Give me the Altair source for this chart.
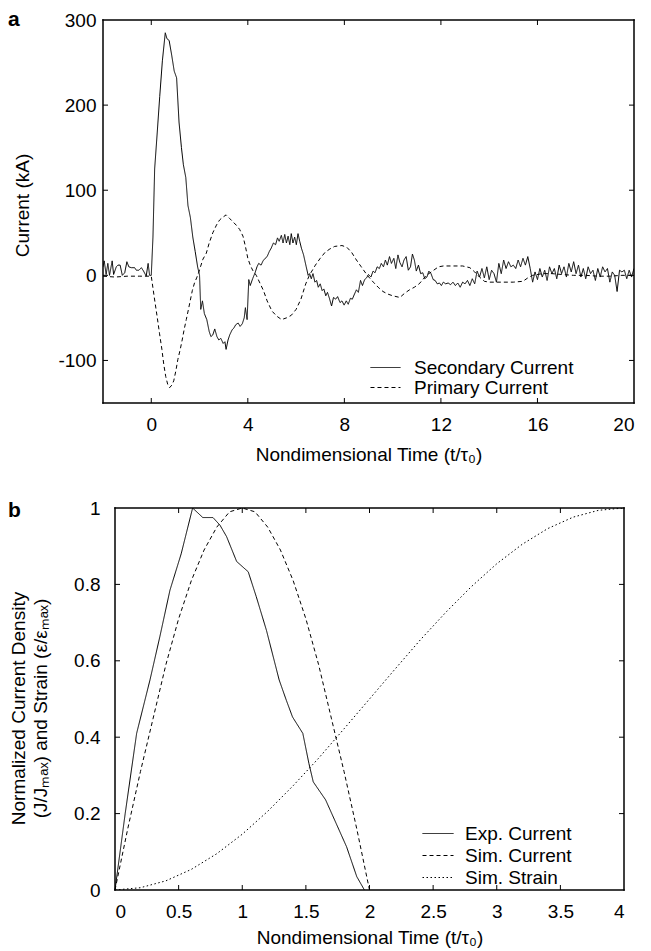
import altair as alt
import pandas as pd

FONT = "Liberation Sans"

# ---------------- Panel a data ----------------
sec_t = [-2.0, -1.95, -1.87, -1.8, -1.73, -1.62, -1.56, -1.45, -1.38, -1.29, -1.2, -1.1, -1.01, -0.93,
         -0.83, -0.69, -0.62, -0.51, -0.41, -0.32, -0.21, -0.13, -0.07,
         0.0, 0.07, 0.14, 0.24, 0.35, 0.46, 0.58, 0.65, 0.74, 0.85, 0.95, 1.05, 1.15, 1.25, 1.33, 1.43,
         1.52, 1.62, 1.72, 1.82, 1.92, 2.0, 2.05, 2.12, 2.2, 2.3, 2.4, 2.47, 2.55, 2.63, 2.72, 2.8, 2.88,
         2.98, 3.05, 3.1, 3.18, 3.25, 3.35, 3.42, 3.5, 3.6, 3.68, 3.77, 3.85, 3.9, 3.97, 4.04, 4.1, 4.2,
         4.3, 4.38, 4.45, 4.55, 4.63, 4.72, 4.8, 4.89, 4.97, 5.06, 5.15, 5.23, 5.3, 5.39, 5.46, 5.53, 5.6,
         5.67, 5.74, 5.8, 5.87, 5.94, 6.01, 6.08, 6.15, 6.22, 6.31, 6.42, 6.5, 6.56, 6.63, 6.7, 6.78, 6.85,
         6.92, 7.0, 7.08, 7.15, 7.23, 7.3, 7.38, 7.47, 7.55, 7.64, 7.72, 7.82, 7.9, 7.99, 8.08, 8.16, 8.25,
         8.33, 8.42, 8.5, 8.58, 8.67, 8.75, 8.84, 8.92, 9.0, 9.1, 9.19, 9.27, 9.36, 9.45, 9.53, 9.62, 9.7,
         9.78, 9.87, 9.95, 10.05, 10.13, 10.22, 10.3, 10.39, 10.47, 10.56, 10.65, 10.74, 10.82, 10.9,
         10.98, 11.07, 11.16, 11.25, 11.33, 11.42, 11.5, 11.59, 11.68, 11.76, 11.85, 11.94, 12.02, 12.1,
         12.2, 12.3, 12.4, 12.5, 12.6, 12.7, 12.8, 12.9, 13.0, 13.1, 13.2, 13.3, 13.4, 13.5, 13.6, 13.7,
         13.8, 13.9, 14.0, 14.1, 14.2, 14.3, 14.4, 14.5, 14.6, 14.7, 14.8, 14.9, 15.0, 15.1, 15.2, 15.3,
         15.4, 15.5, 15.6, 15.7, 15.8, 15.9, 16.0, 16.1, 16.2, 16.3, 16.4, 16.5, 16.6, 16.7, 16.8, 16.9,
         17.0, 17.1, 17.2, 17.3, 17.4, 17.5, 17.6, 17.7, 17.8, 17.9, 18.0, 18.1, 18.2, 18.3, 18.4, 18.5,
         18.6, 18.7, 18.8, 18.9, 19.0, 19.1, 19.2, 19.3, 19.4, 19.5, 19.6, 19.7, 19.8, 19.9, 20.0]
sec_v = [10, 17, 1, 14, 0, 17, 1, 10, 12, 12, 0, 3, 16, 10,
         9, 9, 6, 6, 9, 5, -1, 14, 0,
         0, 45, 125, 165, 210, 252, 285, 278, 276, 258, 240, 232, 180, 150, 130, 115,
         82, 68, 45, 28, 10, 0, -40, -30, -45, -52, -66, -72, -70, -63, -72, -76, -74,
         -80, -78, -87, -76, -70, -64, -62, -58, -56, -60, -57, -50, -38, -52, -5, -12, -4,
         3, 10, 14, 12, 17, 20, 22, 28, 32, 38, 36, 44, 40, 47, 38, 48, 38,
         46, 36, 49, 38, 45, 36, 49, 40, 32, 24, 10, 0, 2, -4, 2, -8, -6,
         -14, -10, -18, -16, -24, -20, -27, -36, -26, -28, -25, -32, -30, -35, -30, -34, -27,
         -28, -22, -17, -20, -6, -12, -5, -3, 1, -2, 5, 3, 10, 8, 14, 10, 18,
         12, 22, 14, 20, 8, 24, 15, 10, 18, 22, 6, 10, 25, 18,
         5, 12, 2, 3, -4, -2, 5, 2, -5, -6, -10, -9, -12, -8,
         -10, -9, -11, -8, -12, -9, -14, -8, -10, -6, -12, -4, -10, 5, -2, 8,
         -3, 10, -5, 6, 2, -8, 14, 2, 18, 8, 16, 10, 12, 8, 18, 10,
         20, 12, 22, 8, -8, 4, -5, 8, -2, 6, -6, 10, 2, 8, -4, 12,
         2, 10, -2, 14, 4, 16, 2, 12, -2, 8, -4, 10, 2, 6, -6, 8,
         -2, 10, 4, 8, -8, 4, 0, -19, 6, 4, 6, -4, 6, -2, 8]

pri_t = [-2.0, -1.5, -1.0, -0.5, 0.0, 0.12, 0.24, 0.34, 0.44, 0.52, 0.6, 0.68, 0.76, 0.85, 0.93, 1.02,
         1.1, 1.2, 1.28, 1.36, 1.45, 1.54, 1.62, 1.7, 1.79, 1.88, 1.96, 2.05, 2.14, 2.28, 2.4, 2.55, 2.7,
         2.83, 2.95, 3.1, 3.24, 3.38, 3.52, 3.66, 3.8, 3.9, 4.0, 4.1, 4.2, 4.35, 4.5, 4.65, 4.8, 5.0, 5.2,
         5.4, 5.6, 5.8, 6.0, 6.2, 6.4, 6.55, 6.8, 7.0, 7.2, 7.4, 7.6, 7.9, 8.1, 8.3, 8.5, 8.7, 8.95, 9.2,
         9.4, 9.6, 9.8, 10.0, 10.3, 10.5, 10.7, 10.9, 11.1, 11.4, 11.7, 11.9, 12.1, 12.5, 12.9, 13.2, 13.4,
         13.6, 13.8, 14.0, 14.5, 15.0, 15.4, 15.6, 15.8, 16.2, 16.6, 17.0, 17.5, 18.0, 18.5, 19.0, 19.5, 20.0]
pri_v = [-1, -2, -1, -1, -1, -25, -48, -68, -87, -105, -119, -128, -132, -129, -124, -112,
         -99, -87, -76, -64, -52, -40, -29, -18, -9, -3, 3, 11, 19, 26, 38, 50, 59,
         65, 68, 71, 67, 63, 59, 54, 46, 34, 20, 12, 6, 0, -9, -18, -30, -42, -48,
         -52, -50, -47, -40, -28, -10, 0, 12, 20, 27, 31, 34, 35, 33, 27, 18, 10, 0, -8,
         -14, -19, -22, -24, -26, -21, -17, -14, -10, 0, 6, 10, 11, 11, 11, 9, 4,
         -2, -7, -8, -8, -8, -7, -3, 0, 2, 2, 1, 0, 0, -1, -1, 0, 0]

a_series = ["Secondary Current", "Primary Current"]
a_xticks = [0, 4, 8, 12, 16, 20]
a_yticks = [-100, 0, 100, 200, 300]

# ---------------- Panel b data ----------------
exp_t = [0.0, 0.08, 0.17, 0.275, 0.353, 0.432, 0.52, 0.61, 0.69, 0.77, 0.825, 0.877, 0.956, 1.047,
         1.11, 1.19, 1.29, 1.346, 1.395, 1.476, 1.524, 1.558, 1.655, 1.737, 1.82, 1.9, 1.96]
exp_v = [0.0, 0.2, 0.41, 0.55, 0.664, 0.785, 0.88, 1.0, 0.975, 0.975, 0.955, 0.925, 0.86, 0.833,
         0.768, 0.68, 0.55, 0.497, 0.453, 0.41, 0.331, 0.283, 0.236, 0.175, 0.113, 0.035, 0.0]

simc_t = [0.0, 0.1, 0.2, 0.3, 0.4, 0.5, 0.6, 0.7, 0.8, 0.9, 1.0, 1.1, 1.2, 1.3, 1.4, 1.5, 1.6, 1.7,
          1.8, 1.9, 2.0]
simc_v = [0.0, 0.16, 0.31, 0.45, 0.59, 0.71, 0.81, 0.89, 0.95, 0.99, 1.0, 0.99, 0.95, 0.89, 0.81,
          0.71, 0.59, 0.45, 0.31, 0.16, 0.0]

strain_t = [0.0, 0.2, 0.4, 0.6, 0.8, 1.0, 1.2, 1.4, 1.6, 1.8, 2.0, 2.2, 2.4, 2.6, 2.8, 3.0, 3.2, 3.4,
            3.6, 3.8, 4.0]
strain_v = [0.0, 0.006, 0.024, 0.054, 0.095, 0.146, 0.206, 0.273, 0.345, 0.422, 0.5, 0.578, 0.655,
            0.727, 0.794, 0.854, 0.905, 0.946, 0.976, 0.994, 1.0]

b_series = ["Exp. Current", "Sim. Current", "Sim. Strain"]
b_xticks = [0, 0.5, 1, 1.5, 2, 2.5, 3, 3.5, 4]
b_yticks = [0, 0.2, 0.4, 0.6, 0.8, 1]

XTITLE = "Nondimensional Time (t/τ₀)"


def build_panel(df, series, dashes, xdom, ydom, xticks, yticks, W, H, x0, xfmt, ytitle,
                ytitle_x, ytitle_y, ylab_pad, xtitle_y, letter, letter_x, letter_y,
                legend_x, legend_y, sym_size, sym_path, label_offset, row_pad):
    xs = alt.Scale(domain=xdom, nice=False, zero=False, range=[x0, W])
    ys = alt.Scale(domain=ydom, nice=False, zero=False)
    xax = alt.Axis(values=xticks, title=XTITLE, labelExpr=xfmt, labelPadding=12.5,
                   titleY=xtitle_y, titleBaseline="top")
    yax = alt.Axis(values=yticks, title=ytitle, labelExpr="'' + datum.value",
                   labelPadding=ylab_pad, titleX=ytitle_x, titleY=ytitle_y,
                   titleBaseline="middle", titleLineHeight=22)
    lines = alt.Chart(df).mark_line(color="black", strokeWidth=1, clip=True).encode(
        x=alt.X("t:Q", scale=xs, axis=xax),
        y=alt.Y("v:Q", scale=ys, axis=yax),
        strokeDash=alt.StrokeDash(
            "series:N",
            scale=alt.Scale(domain=series, range=dashes),
            legend=alt.Legend(title=None, orient="none", legendX=legend_x, legendY=legend_y,
                              symbolType=sym_path, symbolSize=sym_size, symbolStrokeWidth=1,
                              symbolStrokeColor="black", labelOffset=label_offset,
                              rowPadding=row_pad, padding=0, labelFontSize=19,
                              labelFont=FONT, labelColor="black"),
        ),
    )
    xt = pd.DataFrame({"t": [v for v in xticks if xdom[0] < v < xdom[1]]})
    yt = pd.DataFrame({"v": [v for v in yticks if ydom[0] < v < ydom[1]]})
    tick = dict(color="black", strokeWidth=1)
    tb = alt.Chart(xt).mark_rule(**tick).encode(
        x=alt.X("t:Q", scale=xs, axis=xax), y=alt.value(H), y2=alt.value(H - 5))
    tt = alt.Chart(xt).mark_rule(**tick).encode(
        x=alt.X("t:Q", scale=xs, axis=xax), y=alt.value(0), y2=alt.value(5))
    tl = alt.Chart(yt).mark_rule(**tick).encode(
        y=alt.Y("v:Q", scale=ys, axis=yax), x=alt.value(x0), x2=alt.value(x0 + 5))
    tr = alt.Chart(yt).mark_rule(**tick).encode(
        y=alt.Y("v:Q", scale=ys, axis=yax), x=alt.value(W), x2=alt.value(W - 5))
    frame_style = dict(color="black", strokeWidth=1.5, strokeCap="square")
    fr_h = alt.Chart(pd.DataFrame({"edge": ["top", "bottom"], "py": [0, H]})).mark_rule(
        **frame_style).encode(x=alt.value(x0), x2=alt.value(W), y=alt.Y("py:Q", scale=None))
    fr_v = alt.Chart(pd.DataFrame({"edge": ["left", "right"], "px": [x0, W]})).mark_rule(
        **frame_style).encode(y=alt.value(0), y2=alt.value(H), x=alt.X("px:Q", scale=None))
    lab = alt.Chart(pd.DataFrame({"lab": [letter]})).mark_text(
        font=FONT, fontSize=21, fontWeight="bold", align="left", baseline="top",
        color="black").encode(text="lab:N", x=alt.value(letter_x), y=alt.value(letter_y))
    return alt.layer(lines, tb, tt, tl, tr, fr_h, fr_v, lab).properties(width=W, height=H)


df_a = pd.concat([
    pd.DataFrame({"t": sec_t, "v": sec_v, "series": a_series[0]}),
    pd.DataFrame({"t": pri_t, "v": pri_v, "series": a_series[1]}),
], ignore_index=True)

df_b = pd.concat([
    pd.DataFrame({"t": exp_t, "v": exp_v, "series": b_series[0]}),
    pd.DataFrame({"t": simc_t, "v": simc_v, "series": b_series[1]}),
    pd.DataFrame({"t": strain_t, "v": strain_v, "series": b_series[2]}),
], ignore_index=True)

panel_a = build_panel(
    df_a, a_series, [[1, 0], [4, 3]], [-2, 20], [-150, 300], a_xticks, a_yticks, 531, 383, 0,
    "'' + datum.value", "Current (kA)", -81, 185, 7, 42.5, "a", -95, -11,
    272.5, 337.5, 361, "M-1.58,0H1.58", 18.5, 0)

panel_b = build_panel(
    df_b, b_series, [[1, 0], [4, 3], [1.5, 2.5]], [0, 4], [0, 1], b_xticks, b_yticks, 521, 382, 12,
    "format(datum.value, '~g')",
    ["Normalized Current Density", "(J/Jₘₐₓ) and Strain (ε/εₘₐₓ)"], -85, 200, 3, 38.5,
    "b", -95, -7.6, 324.5, 315, 400, "M-1.55,0H1.55", 16.5, 1)

chart = alt.concat(panel_a, panel_b, columns=1, spacing=34).resolve_scale(
    strokeDash="independent", x="independent", y="independent"
).properties(
    padding={"left": 0, "top": 1, "right": 0, "bottom": 0}, background="white"
).configure_view(
    strokeWidth=0
).configure_axis(
    grid=False, ticks=False, domain=False, labelFont=FONT, titleFont=FONT, labelFontSize=19,
    titleFontSize=19, titleFontWeight="normal", labelColor="black", titleColor="black"
)

chart.save("out.html", embed_options={"renderer": "svg", "actions": False})
